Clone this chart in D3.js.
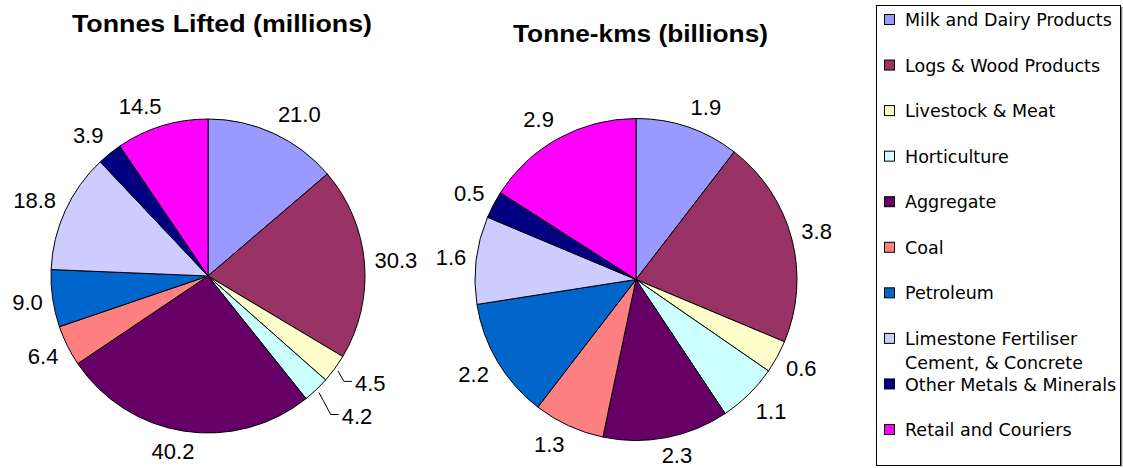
<!DOCTYPE html>
<html>
<head>
<meta charset="utf-8">
<script src="https://cdn.jsdelivr.net/npm/d3@7"></script>
<style>
  body { margin: 0; background: #fff; }
  svg { display: block; }
</style>
</head>
<body>
<div id="chart"></div>
<script>
const width = 1123;
const height = 468;

// categories, in legend / slice order
const categories = [
  "Milk and Dairy Products",
  "Logs & Wood Products",
  "Livestock & Meat",
  "Horticulture",
  "Aggregate",
  "Coal",
  "Petroleum",
  "Limestone Fertiliser Cement, & Concrete",
  "Other Metals & Minerals",
  "Retail and Couriers"
];
const tonnesLifted = [21.0, 30.3, 4.5, 4.2, 40.2, 6.4, 9.0, 18.8, 3.9, 14.5];
const tonneKms = [1.9, 3.8, 0.6, 1.1, 2.3, 1.3, 2.2, 1.6, 0.5, 2.9];
const colours = ["#9999FF", "#993366", "#FFFFCC", "#CCFFFF", "#660066",
                 "#FF8080", "#0066CC", "#CCCCFF", "#000080", "#FF00FF"];

const charts = [
  { title: "Tonnes Lifted (millions)", values: tonnesLifted, cx: 208, cy: 276, r: 157,
    titleX: 222, titleY: 32, titleLen: 300, leaders: { 2: 25, 3: 37 } },
  { title: "Tonne-kms (billions)", values: tonneKms, cx: 636, cy: 279.5, r: 161,
    titleX: 640.5, titleY: 41.5, titleLen: 255, leaders: {} }
];

const color = d3.scaleOrdinal().domain(categories).range(colours);

const svg = d3.select("#chart")
  .append("svg")
  .attr("width", width)
  .attr("height", height);

svg.append("rect").attr("width", width).attr("height", height).attr("fill", "#fff");

const pie = d3.pie().sort(null).value(d => d.value);
const clamp = v => Math.max(-1, Math.min(1, v));
const polar = (r, a) => [r * Math.sin(a), -r * Math.cos(a)];

charts.forEach(chart => {
  svg.append("text")
    .attr("x", chart.titleX)
    .attr("y", chart.titleY)
    .attr("text-anchor", "middle")
    .attr("font-family", "'Liberation Sans', Arial, sans-serif")
    .attr("font-weight", "bold")
    .attr("font-size", 24)
    .attr("textLength", chart.titleLen)
    .attr("lengthAdjust", "spacingAndGlyphs")
    .text(chart.title);

  const g = svg.append("g").attr("transform", `translate(${chart.cx},${chart.cy})`);
  const arc = d3.arc().innerRadius(0).outerRadius(chart.r);
  const arcs = pie(categories.map((c, i) => ({ name: c, value: chart.values[i] })));

  g.selectAll("path.slice")
    .data(arcs)
    .join("path")
    .attr("class", "slice")
    .attr("d", arc)
    .attr("fill", d => color(d.data.name))
    .attr("stroke", "#000")
    .attr("stroke-width", 1)
    .attr("stroke-linejoin", "round");

  arcs.forEach((d, i) => {
    const mid = (d.startAngle + d.endAngle) / 2;
    const label = g.append("text")
      .attr("font-family", "'Liberation Sans', Arial, sans-serif")
      .attr("font-size", 22)
      .attr("dominant-baseline", "central")
      .text(d.value.toFixed(1));

    if (chart.leaders[i] !== undefined) {
      // pushed-out label with a leader line
      const [lx, ly] = polar(chart.r + chart.leaders[i], mid);
      const [sx, sy] = polar(chart.r + 4, mid);
      label.attr("x", lx).attr("y", ly).attr("text-anchor", "start");
      g.append("path")
        .attr("d", `M${sx},${sy}L${lx - 11},${ly - 2}L${lx - 3},${ly - 2}`)
        .attr("fill", "none")
        .attr("stroke", "#000")
        .attr("stroke-width", 1);
    } else {
      const w = label.node().getComputedTextLength();
      const s = Math.sin(mid), c = Math.cos(mid);
      const [px, py] = polar(chart.r + 10, mid);
      // keep the label inside the picture
      const y = Math.min(py - clamp(c * 1.5) * 10, height - chart.cy - 13);
      label
        .attr("x", px + clamp(s * 3) * w / 2)
        .attr("y", y)
        .attr("text-anchor", "middle");
    }
  });
});

// Legend
const legend = svg.append("g");
legend.append("line")
  .attr("x1", 1121.5).attr("y1", 7).attr("x2", 1121.5).attr("y2", 466.5)
  .attr("stroke", "#777").attr("stroke-width", 1.5);
legend.append("rect")
  .attr("x", 876.5).attr("y", 5.5)
  .attr("width", 244).attr("height", 460)
  .attr("fill", "#fff")
  .attr("stroke", "#000")
  .attr("stroke-width", 1);

const legendY = d3.scalePoint().domain(categories).range([20, 430]);

const items = legend.selectAll("g.item")
  .data(categories)
  .join("g")
  .attr("class", "item")
  .attr("transform", d => `translate(0,${legendY(d)})`);

items.append("rect")
  .attr("x", 884.5).attr("y", -5.5)
  .attr("width", 10).attr("height", 10)
  .attr("fill", d => color(d))
  .attr("stroke", "#000")
  .attr("stroke-width", 1);

items.append("text")
  .attr("x", 905)
  .attr("font-family", "'DejaVu Sans', Verdana, sans-serif")
  .attr("font-size", 17.5)
  .attr("fill", "#000")
  .each(function (d) {
    // wrap long names onto a second line
    const text = d3.select(this);
    const words = d.split(" ");
    let line = [];
    let tspan = text.append("tspan").attr("x", 905).attr("dy", "0.35em");
    words.forEach(word => {
      line.push(word);
      tspan.text(line.join(" "));
      if (tspan.node().getComputedTextLength() > 218 && line.length > 1) {
        line.pop();
        tspan.text(line.join(" "));
        line = [word];
        tspan = text.append("tspan").attr("x", 905).attr("dy", 24).text(word);
      }
    });
  });
</script>
</body>
</html>
